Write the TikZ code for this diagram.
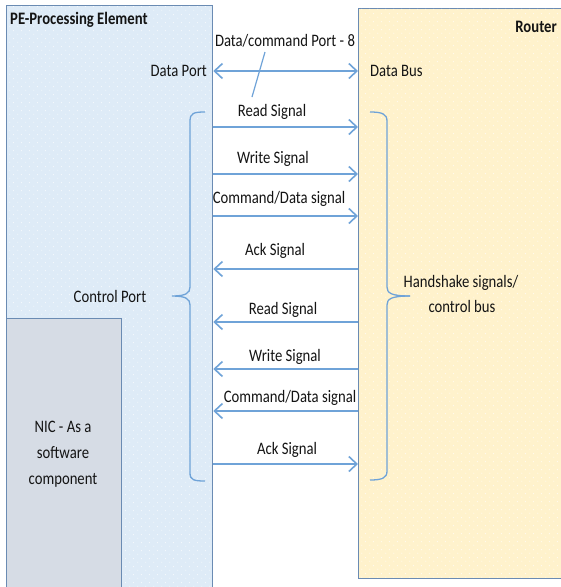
\documentclass[tikz,border=0pt]{standalone}
\usepackage{fontspec}
\setmainfont{Carlito}[FakeStretch=0.84]
\usetikzlibrary{arrows.meta,patterns.meta}

\definecolor{pefill}{HTML}{DEEBF7}
\definecolor{rtfill}{HTML}{FFF2CC}
\definecolor{nicfill}{HTML}{D6DCE5}
\definecolor{boxline}{HTML}{6A8BB3}
\definecolor{sigline}{HTML}{6FA3D8}
\definecolor{txt}{HTML}{141414}

\tikzdeclarepattern{name=softdots, type=uncolored,
  bounding box={(0pt,0pt) and (8pt,8pt)}, tile size={(8pt,8pt)},
  code={\fill (2pt,2pt) circle (0.55pt); \fill (6pt,6pt) circle (0.55pt);}}

\tikzset{
  unitbox/.style={draw=boxline, line width=1.3pt, anchor=north west, inner sep=0pt},
  pebox/.style={unitbox, fill=pefill, postaction={pattern=softdots, pattern color=white}},
  rtbox/.style={unitbox, fill=rtfill, postaction={pattern=softdots, pattern color=white}},
  nicbox/.style={unitbox, fill=nicfill},
  sig/.style={draw=sigline, line width=1.8pt, -{Straight Barb[length=8pt, width=15pt, line width=1.6pt]}},
  sigboth/.style={sig, {Straight Barb[length=8pt, width=15pt, line width=1.6pt]}-{Straight Barb[length=8pt, width=15pt, line width=1.6pt]}},
  bracel/.style={draw=sigline, line width=1.3pt},
  lbl/.style={text=txt, font=\fontsize{17.5}{21}\selectfont, inner sep=0pt},
  hdr/.style={lbl, font=\fontsize{17.5}{21}\selectfont\bfseries},
}

\begin{document}
\begin{tikzpicture}[x=1pt, y=-1pt]
\clip (0,0) rectangle (561,587);
\fill[white] (0,0) rectangle (561,587);

% blocks
\node[pebox, minimum width=206pt, minimum height=600pt] (pe) at (6,5) {};
\node[rtbox, minimum width=220pt, minimum height=570pt] (rt) at (358,8) {};
\node[nicbox, minimum width=115pt, minimum height=290pt] (nic) at (6,318) {};

% block titles
\node[hdr, anchor=west] (petitle) at (10,20) {PE-Processing Element};
\node[hdr, anchor=east] (rttitle) at (557,27) {Router};
\node[lbl, align=center] (nictext) at (63,454) {NIC - As a\\[5pt]software\\[5pt]component};

% data port
\coordinate (ydata) at (0,71);
\draw[sigboth] (pe.east |- ydata) -- (rt.west |- ydata);
\node[lbl, anchor=east] (dport) at (207,71) {Data Port};
\node[lbl, anchor=west] (dbus) at (370,71) {Data Bus};
\node[lbl] (dcmd) at (285,41) {Data/command Port - 8};
\coordinate (pinend) at (252,97);
\draw[bracel, line width=1.2pt] (265,52) -- (pinend);

% control signals
\coordinate (y1) at (0,127);
\coordinate (y2) at (0,174);
\coordinate (y3) at (0,216);
\coordinate (y4) at (0,269);
\coordinate (y5) at (0,322);
\coordinate (y6) at (0,369);
\coordinate (y7) at (0,411);
\coordinate (y8) at (0,464);

\draw[sig] (pe.east |- y1) -- (rt.west |- y1);
\draw[sig] (pe.east |- y2) -- (rt.west |- y2);
\draw[sig] (pe.east |- y3) -- (rt.west |- y3);
\draw[sig] (rt.west |- y4) -- (pe.east |- y4);
\draw[sig] (rt.west |- y5) -- (pe.east |- y5);
\draw[sig] (rt.west |- y6) -- (pe.east |- y6);
\draw[sig] (rt.west |- y7) -- (pe.east |- y7);
\draw[sig] (pe.east |- y8) -- (rt.west |- y8);

\node[lbl] (l1) at (272,112) {Read Signal};
\node[lbl] (l2) at (273,159) {Write Signal};
\node[lbl] (l3) at (279,199) {Command/Data signal};
\node[lbl] (l4) at (275,251) {Ack Signal};
\node[lbl] (l5) at (283,310) {Read Signal};
\node[lbl] (l6) at (285,357) {Write Signal};
\node[lbl] (l7) at (290,398) {Command/Data signal};
\node[lbl] (l8) at (287,450) {Ack Signal};

% braces grouping the control lines
\draw[bracel] (205,112) .. controls (194,112) and (190,113) .. (190,121)
  -- (190,287) .. controls (190,293) and (186,296) .. (172,296)
  .. controls (186,296) and (190,299) .. (190,305)
  -- (190,473) .. controls (190,480) and (194,481) .. (205,481);
\draw[bracel] (370,112) .. controls (382,112) and (387,114) .. (387,121)
  -- (387,287) .. controls (387,293) and (391,296) .. (410,296);
\draw[bracel] (410,296) .. controls (391,296) and (387,299) .. (387,305)
  -- (387,471) .. controls (387,478) and (382,480) .. (370,480);

\node[lbl] (cport) at (110,296) {Control Port};
\node[lbl] (hs1) at (461,283) {Handshake signals/};
\node[lbl] (hs2) at (462,306) {control bus};
\end{tikzpicture}
\end{document}
